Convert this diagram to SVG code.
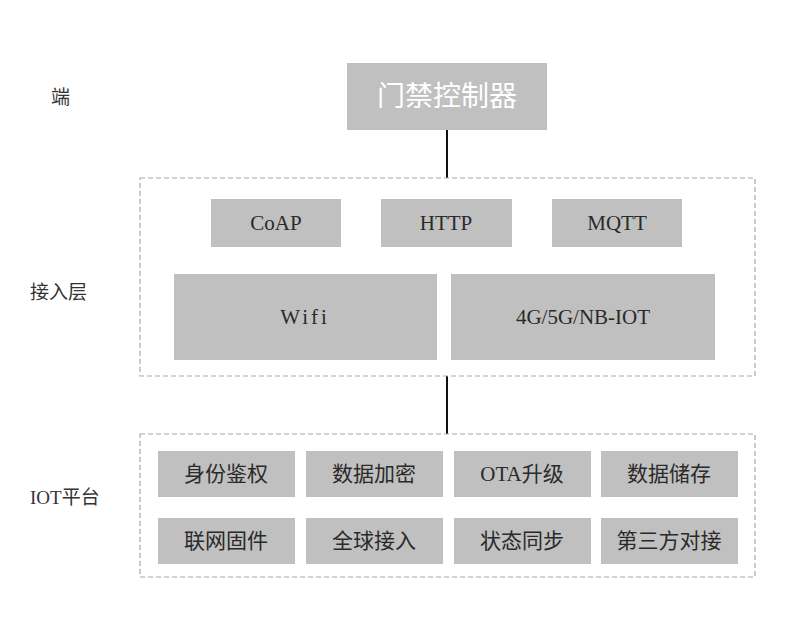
<svg xmlns="http://www.w3.org/2000/svg" width="800" height="640" viewBox="0 0 800 640">
<style>
.box{fill:#c0c0c0;}
.t{font-family:"Liberation Serif","Noto Sans CJK SC",serif;font-size:21px;fill:#2a2a2a;text-anchor:middle;dominant-baseline:central;}
.lbl{font-family:"Liberation Serif","Noto Sans CJK SC",serif;font-size:19px;fill:#333;dominant-baseline:central;}
.grp{fill:none;stroke:#aaa;stroke-width:1.2;stroke-dasharray:5,3;}
.conn{stroke:#111;stroke-width:2;fill:none;}
</style>
<rect width="800" height="640" fill="#fff"/>
<g id="labels">
<text class="lbl" x="51" y="97">端</text>
<text class="lbl" x="30" y="292">接入层</text>
<text class="lbl" x="30" y="497">IOT平台</text>
</g>
<g id="connectors">
<line class="conn" x1="447" y1="130" x2="447" y2="178"/>
<line class="conn" x1="447" y1="376" x2="447" y2="434"/>
</g>
<g id="access-layer">
<rect class="grp" x="140" y="178" width="615" height="198"/>
</g>
<g id="iot-platform">
<rect class="grp" x="140" y="434" width="615" height="143"/>
</g>
<g id="controller">
<rect class="box" x="347" y="63" width="200" height="67"/>
<text class="t" x="447" y="96" style="fill:#fff;font-size:28px">门禁控制器</text>
</g>
<g id="coap"><rect class="box" x="211" y="199" width="130" height="48"/><text class="t" x="276" y="223">CoAP</text></g>
<g id="http"><rect class="box" x="381" y="199" width="131" height="48"/><text class="t" x="446" y="223">HTTP</text></g>
<g id="mqtt"><rect class="box" x="552" y="199" width="130" height="48"/><text class="t" x="617" y="223">MQTT</text></g>
<g id="wifi"><rect class="box" x="174" y="274" width="263" height="86"/><text class="t" x="305" y="317" style="letter-spacing:3px">Wifi</text></g>
<g id="cellular"><rect class="box" x="451" y="274" width="264" height="86"/><text class="t" x="583" y="317">4G/5G/NB-IOT</text></g>
<g id="n1"><rect class="box" x="158" y="451" width="137" height="46"/><text class="t" x="226" y="474">身份鉴权</text></g>
<g id="n2"><rect class="box" x="306" y="451" width="137" height="46"/><text class="t" x="374" y="474">数据加密</text></g>
<g id="n3"><rect class="box" x="454" y="451" width="137" height="46"/><text class="t" x="522" y="474">OTA升级</text></g>
<g id="n4"><rect class="box" x="601" y="451" width="137" height="46"/><text class="t" x="669" y="474">数据储存</text></g>
<g id="n5"><rect class="box" x="158" y="518" width="137" height="46"/><text class="t" x="226" y="541">联网固件</text></g>
<g id="n6"><rect class="box" x="306" y="518" width="137" height="46"/><text class="t" x="374" y="541">全球接入</text></g>
<g id="n7"><rect class="box" x="454" y="518" width="137" height="46"/><text class="t" x="522" y="541">状态同步</text></g>
<g id="n8"><rect class="box" x="601" y="518" width="137" height="46"/><text class="t" x="669" y="541">第三方对接</text></g>
</svg>
